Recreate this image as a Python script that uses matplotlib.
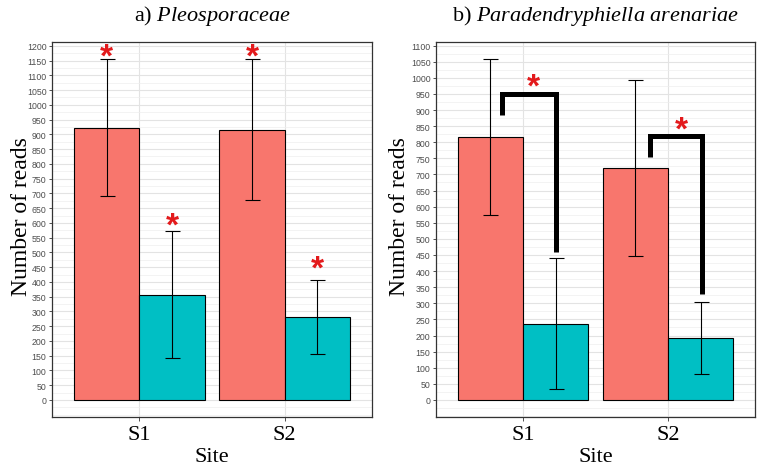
import numpy as np
import matplotlib.pyplot as plt
from matplotlib.ticker import MultipleLocator

plt.rcParams['mathtext.fontset'] = 'custom'
plt.rcParams['mathtext.rm'] = 'Liberation Serif'
plt.rcParams['mathtext.it'] = 'Liberation Serif:italic'

sites = ['S1', 'S2']

# a) Pleosporaceae
a_red = [922, 916]
a_red_lo = [691, 677]
a_red_hi = [1155, 1154]
a_teal = [356, 282]
a_teal_lo = [141, 155]
a_teal_hi = [572, 407]
a_stars_x = [0.775, 1.225, 1.775, 2.225]
a_stars_y = [1162, 588, 1162, 444]

# b) Paradendryphiella arenariae
b_red = [816, 720]
b_red_lo = [573, 447]
b_red_hi = [1058, 993]
b_teal = [237, 192]
b_teal_lo = [34, 81]
b_teal_hi = [440, 304]
b_stars_x = [1.07, 2.09]
b_stars_y = [972, 838]
b_brackets = [([0.855, 0.855, 1.228, 1.228], [885, 950, 950, 460]),
              ([1.876, 1.876, 2.232, 2.232], [755, 818, 818, 329])]

RED = '#F8766D'
TEAL = '#00BFC4'
serif = 'Liberation Serif'


def panel(ax, red, rlo, rhi, teal, tlo, thi, ymax, title, ylab_x):
    x = np.arange(1, len(sites) + 1)
    w = 0.45
    ax.bar(x - w / 2, red, w, color=RED, edgecolor='black', linewidth=0.8, zorder=3)
    ax.bar(x + w / 2, teal, w, color=TEAL, edgecolor='black', linewidth=0.8, zorder=3)
    r = np.array(red)
    t = np.array(teal)
    ax.errorbar(x - w / 2, r, yerr=[r - np.array(rlo), np.array(rhi) - r], fmt='none',
                ecolor='black', elinewidth=0.8, capsize=5.4, capthick=0.8, zorder=4)
    ax.errorbar(x + w / 2, t, yerr=[t - np.array(tlo), np.array(thi) - t], fmt='none',
                ecolor='black', elinewidth=0.8, capsize=5.4, capthick=0.8, zorder=4)

    top = max(max(rhi), max(thi))
    ax.set_ylim(-0.05 * top, top * 1.05)
    ax.set_xlim(0.4, 2.6)
    ax.set_xticks(x)
    ax.set_xticklabels(sites, fontfamily=serif, fontsize=16)
    ax.set_yticks(np.arange(0, ymax + 1, 50))
    ax.yaxis.set_minor_locator(MultipleLocator(25))
    ax.tick_params(axis='y', which='major', labelsize=6.3, labelcolor='#4d4d4d',
                   length=2, width=0.6, color='#333333', pad=2)
    ax.tick_params(axis='y', which='minor', length=0)
    ax.tick_params(axis='x', length=3, width=0.6, color='#333333', pad=3)
    for lab in ax.get_yticklabels():
        lab.set_fontfamily('Liberation Sans')
    ax.grid(True, which='major', color='#e3e3e3', linewidth=0.8, zorder=0)
    ax.grid(True, which='minor', axis='y', color='#eeeeee', linewidth=0.5, zorder=0)
    ax.set_axisbelow(True)
    for s in ax.spines.values():
        s.set_color('#333333')
        s.set_linewidth(0.9)
    ax.set_ylabel('Number of reads', fontfamily=serif, fontsize=17)
    ax.yaxis.set_label_coords(ylab_x, 0.537)
    ax.set_xlabel('Site', fontfamily=serif, fontsize=16, labelpad=2)
    ax.set_title(title, fontfamily=serif, fontsize=16, pad=16)


fig = plt.figure(figsize=(7.6, 4.77), dpi=100)
ax1 = fig.add_axes([0.0684, 0.1237, 0.421, 0.786])
ax2 = fig.add_axes([0.5737, 0.1237, 0.4197, 0.786])

panel(ax1, a_red, a_red_lo, a_red_hi, a_teal, a_teal_lo, a_teal_hi, 1200,
      r'a) $\it{Pleosporaceae}$', -0.063)
panel(ax2, b_red, b_red_lo, b_red_hi, b_teal, b_teal_lo, b_teal_hi, 1100,
      r'b) $\it{Paradendryphiella\ arenariae}$', -0.082)

for xs, ys in b_brackets:
    ax2.plot(xs, ys, color='black', linewidth=3.6, solid_joinstyle='miter',
             solid_capstyle='butt', zorder=5)

for ax, sx, sy in [(ax1, a_stars_x, a_stars_y), (ax2, b_stars_x, b_stars_y)]:
    for xx, yy in zip(sx, sy):
        ax.text(xx, yy, '*', color='#e31a1c', fontsize=24, fontweight='bold',
                fontfamily='Liberation Sans', ha='center', va='center', zorder=6)

fig.savefig('out.png', dpi=100)
